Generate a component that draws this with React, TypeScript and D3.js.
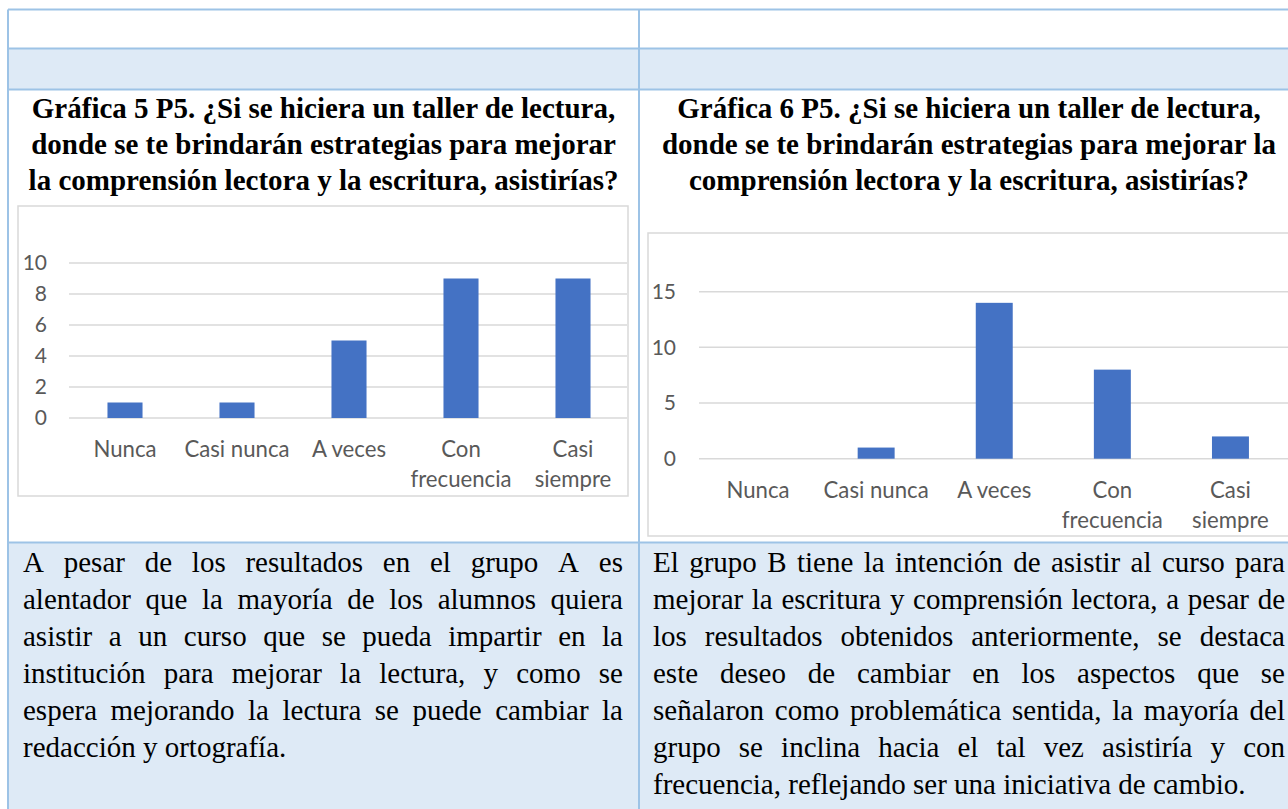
import React from "react";
import * as d3 from "d3";

// ---------- data ----------
const categories = ["Nunca", "Casi nunca", "A veces", "Con frecuencia", "Casi siempre"];
const valuesA = [1, 1, 5, 9, 9];
const valuesB = [0, 1, 14, 8, 2];
const ticksA = [0, 2, 4, 6, 8, 10];
const ticksB = [0, 5, 10, 15];

const titleA = [
  "Gráfica 5 P5. ¿Si se hiciera un taller de lectura,",
  "donde se te brindarán estrategias para mejorar",
  "la comprensión lectora y la escritura, asistirías?",
];
const titleB = [
  "Gráfica 6 P5. ¿Si se hiciera un taller de lectura,",
  "donde se te brindarán estrategias para mejorar la",
  "comprensión lectora y la escritura, asistirías?",
];
const bodyA = [
  "A pesar de los resultados en el grupo A es",
  "alentador que la mayoría de los alumnos quiera",
  "asistir a un curso que se pueda impartir en la",
  "institución para mejorar la lectura, y como se",
  "espera mejorando la lectura se puede cambiar la",
  "redacción y ortografía.",
];
const bodyB = [
  "El grupo B tiene la intención de asistir al curso para",
  "mejorar la escritura y comprensión lectora, a pesar de",
  "los resultados obtenidos anteriormente, se destaca",
  "este deseo de cambiar en los aspectos que se",
  "señalaron como problemática sentida, la mayoría del",
  "grupo se inclina hacia el tal vez asistiría y con",
  "frecuencia, reflejando ser una iniciativa de cambio.",
];

// ---------- styles ----------
const BORDER = "#9DC3E6";
const LIGHT = "#DEEAF6";
const BAR = "#4472C4";
const GRID = "#D9D9D9";
const AXIS_TEXT = "#595959";
const SERIF = "'Liberation Serif', 'Times New Roman', serif";
const SANS = "Lato, 'Open Sans', sans-serif";
const BODY_SIZE = 29;
const CAT_SIZE = 22.2;
const TICK_SIZE = 21;

let ctx: CanvasRenderingContext2D | null = null;
function measure(text: string, font: string): number {
  if (!ctx) {
    const c = document.createElement("canvas");
    ctx = c.getContext("2d");
  }
  if (!ctx) return text.length * 10;
  ctx.font = font;
  return ctx.measureText(text).width;
}

function wrapLabel(label: string, maxW: number): string[] {
  const font = `${CAT_SIZE}px ${SANS}`;
  if (measure(label, font) <= maxW) return [label];
  const words = label.split(" ");
  const lines: string[] = [];
  let cur = "";
  words.forEach((w) => {
    const t = cur ? cur + " " + w : w;
    if (cur && measure(t, font) > maxW) {
      lines.push(cur);
      cur = w;
    } else cur = t;
  });
  if (cur) lines.push(cur);
  return lines;
}

function Justified({ lines, x0, x1, y0, lh }: { lines: string[]; x0: number; x1: number; y0: number; lh: number }) {
  const font = `${BODY_SIZE}px ${SERIF}`;
  const spaceW = measure(" ", font);
  const out: React.ReactNode[] = [];
  lines.forEach((line, li) => {
    const words = line.split(" ");
    const widths = words.map((w) => measure(w, font));
    const total = widths.reduce((a, b) => a + b, 0);
    const last = li === lines.length - 1;
    const gap = last || words.length < 2 ? spaceW : (x1 - x0 - total) / (words.length - 1);
    let x = x0;
    words.forEach((w, wi) => {
      out.push(
        <text key={`${li}-${wi}`} x={x} y={y0 + li * lh} fontFamily={SERIF} fontSize={BODY_SIZE} fill="#000">
          {w}
        </text>
      );
      x += widths[wi] + gap;
    });
  });
  return <g>{out}</g>;
}

type ChartProps = {
  values: number[];
  ticks: number[];
  frame: [number, number, number, number];
  xRange: [number, number];
  gridRight: number;
  yRange: [number, number];
  yMax: number;
  labelX: number;
  catY: number;
};

function BarChart({ values, ticks, frame, xRange, gridRight, yRange, yMax, labelX, catY }: ChartProps) {
  const p = 0.687;
  const x = d3.scaleBand<string>().domain(categories).range(xRange).paddingInner(p).paddingOuter(p / 2);
  const y = d3.scaleLinear().domain([0, yMax]).range(yRange);
  const step = x.step();
  return (
    <g>
      <rect x={frame[0]} y={frame[1]} width={frame[2] - frame[0]} height={frame[3] - frame[1]} fill="#fff" stroke={GRID} strokeWidth={1.5} />
      {ticks.map((t) => (
        <g key={t}>
          <line x1={xRange[0]} x2={gridRight} y1={y(t)} y2={y(t)} stroke={GRID} strokeWidth={1.5} />
          <text x={labelX} y={y(t)} dy="0.35em" textAnchor="end" fontFamily={SANS} fontSize={TICK_SIZE} fill={AXIS_TEXT}>
            {t}
          </text>
        </g>
      ))}
      {categories.map((c, i) => (
        <rect key={c} x={x(c)} y={y(values[i])} width={x.bandwidth()} height={y(0) - y(values[i])} fill={BAR} />
      ))}
      {categories.map((c) => {
        const lines = wrapLabel(c, step - 2);
        const cx = (x(c) as number) + x.bandwidth() / 2;
        return (
          <text key={c} textAnchor="middle" fontFamily={SANS} fontSize={CAT_SIZE} fill={AXIS_TEXT}>
            {lines.map((l, li) => (
              <tspan key={li} x={cx} y={catY + li * 30}>
                {l}
              </tspan>
            ))}
          </text>
        );
      })}
    </g>
  );
}

export default function App() {
  const W = 1288;
  const H = 809;
  const L = 8;
  const M = 639;
  const R = 1299;
  const rows = [9.5, 48.5, 89.5, 542.5, 830];
  return (
    <svg width={W} height={H} style={{ position: "absolute", left: 0, top: 0, background: "#fff" }}>
      {/* row fills */}
      <rect x={L} y={rows[1]} width={R - L} height={rows[2] - rows[1]} fill={LIGHT} />
      <rect x={L} y={rows[3]} width={R - L} height={rows[4] - rows[3]} fill={LIGHT} />

      {/* titles */}
      {titleA.map((t, i) => (
        <text key={"ta" + i} x={(L + M) / 2} y={117.5 + i * 36} textAnchor="middle" fontFamily={SERIF} fontWeight="bold" fontSize={BODY_SIZE}>
          {t}
        </text>
      ))}
      {titleB.map((t, i) => (
        <text key={"tb" + i} x={(M + R) / 2} y={117.5 + i * 36} textAnchor="middle" fontFamily={SERIF} fontWeight="bold" fontSize={BODY_SIZE}>
          {t}
        </text>
      ))}

      <BarChart
        values={valuesA}
        ticks={ticksA}
        frame={[18, 206, 628, 496]}
        xRange={[69, 629]}
        gridRight={627}
        yRange={[418, 263]}
        yMax={10}
        labelX={47}
        catY={457}
      />
      <BarChart
        values={valuesB}
        ticks={ticksB}
        frame={[648, 233, 1320, 536]}
        xRange={[699, 1289.5]}
        gridRight={1320}
        yRange={[458.7, 291.7]}
        yMax={15}
        labelX={676}
        catY={498}
      />

      {/* body text */}
      <Justified lines={bodyA} x0={23} x1={623} y0={572} lh={37} />
      <Justified lines={bodyB} x0={653} x1={1285} y0={572} lh={37} />

      {/* table borders */}
      {rows.slice(0, 4).map((r, i) => (
        <line key={"h" + i} x1={L} x2={R} y1={r} y2={r} stroke={BORDER} strokeWidth={2} />
      ))}
      <line x1={L} x2={L} y1={rows[0]} y2={H + 20} stroke={BORDER} strokeWidth={2} />
      <line x1={M} x2={M} y1={rows[0]} y2={H + 20} stroke={BORDER} strokeWidth={2} />
    </svg>
  );
}
